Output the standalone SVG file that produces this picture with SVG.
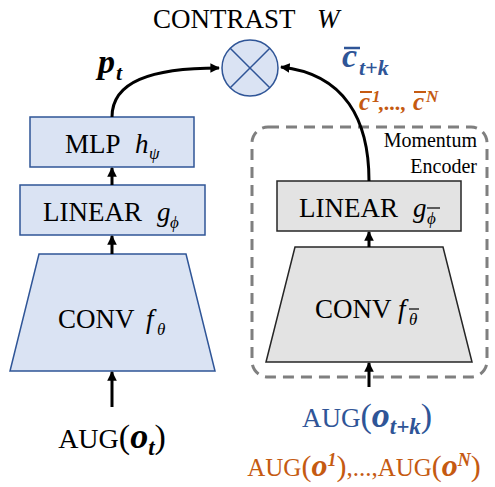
<svg xmlns="http://www.w3.org/2000/svg" width="495" height="487" viewBox="0 0 495 487">
<defs>
<style>
.t{font-family:"Liberation Serif","Times New Roman",serif;font-size:27px;fill:#000}
.i{font-style:italic}
.bi{font-style:italic;font-weight:bold}
.blue{fill:#dae3f3;stroke:#2f5597;stroke-width:1.5}
.gray{fill:#e3e3e3;stroke:#262626;stroke-width:1.5}
.conn{fill:none;stroke:#000;stroke-width:3}
</style>
<marker id="ah" viewBox="0 0 10 10" refX="9" refY="5" markerWidth="3.2" markerHeight="3.2" orient="auto-start-reverse" markerUnits="strokeWidth">
<path d="M0,0 L10,5 L0,10 z" fill="#000"/>
</marker>
</defs>
<rect width="495" height="487" fill="#fff"/>

<g id="momentum-box">
<rect x="252" y="127" width="235" height="250" rx="16" ry="16" fill="none" stroke="#7f7f7f" stroke-width="3" stroke-dasharray="11,7"/>
<text class="t" x="477" y="147" text-anchor="end" style="font-size:20px">Momentum</text>
<text class="t" x="477" y="173" text-anchor="end" style="font-size:20px">Encoder</text>
</g>

<g id="contrast">
<circle cx="250" cy="68" r="28" class="blue"/>
<line x1="230.2" y1="48.2" x2="269.8" y2="87.8" stroke="#2f5597" stroke-width="1.5"/>
<line x1="269.8" y1="48.2" x2="230.2" y2="87.8" stroke="#2f5597" stroke-width="1.5"/>
<text class="t" x="153" y="28">CONTRAST</text>
<text class="t i" x="317" y="28">W</text>
</g>

<g id="mlp">
<rect x="30" y="117" width="164" height="50" class="blue"/>
<text class="t" x="65" y="153">MLP</text>
<text class="t i" x="135" y="153">h</text>
<text class="t i" x="149" y="159" style="font-size:17px">ψ</text>
</g>

<g id="linear-left">
<rect x="20" y="185" width="185" height="50" class="blue"/>
<text class="t" x="43" y="221">LINEAR</text>
<text class="t i" x="157" y="221">g</text>
<text class="t i" x="170" y="228" style="font-size:17px">ϕ</text>
</g>

<g id="conv-left">
<polygon points="39,254 186,254 215,371 10,371" class="blue"/>
<text class="t" x="58" y="328">CONV</text>
<text class="t i" x="146" y="328">f</text>
<text class="t i" x="157" y="335" style="font-size:17px">θ</text>
</g>

<g id="linear-right">
<rect x="277" y="181" width="184" height="50" class="gray"/>
<text class="t" x="299" y="217">LINEAR</text>
<text class="t i" x="413" y="217">g</text>
<text class="t i" x="427" y="224" style="font-size:17px">ϕ</text>
<line x1="427" y1="208" x2="440" y2="208" stroke="#000" stroke-width="1.2"/>
</g>

<g id="conv-right">
<polygon points="295,247 443,247 472,362 266,362" class="gray"/>
<text class="t" x="315" y="318">CONV</text>
<text class="t i" x="398" y="318">f</text>
<text class="t i" x="409" y="325" style="font-size:17px">θ</text>
<line x1="409" y1="309" x2="419" y2="309" stroke="#000" stroke-width="1.2"/>
</g>

<g id="labels">
<text class="t bi" x="98" y="73" style="font-size:34px">p</text>
<text class="t bi" x="116" y="80" style="font-size:22px">t</text>

<text class="t bi" x="342" y="67" style="font-size:34px;fill:#2f5597">c</text>
<line x1="344" y1="48" x2="360" y2="48" stroke="#2f5597" stroke-width="2.5"/>
<text class="t bi" x="359" y="75" style="font-size:22px;fill:#2f5597">t+k</text>

<text class="t bi" x="359" y="110" style="font-size:25px;fill:#c55a11">c</text>
<line x1="360" y1="92" x2="372" y2="92" stroke="#c55a11" stroke-width="2"/>
<text class="t bi" x="372" y="102" style="font-size:17px;fill:#c55a11">1</text>
<text class="t bi" x="379" y="110" style="font-size:22px;fill:#c55a11">,...,</text>
<text class="t bi" x="413" y="110" style="font-size:25px;fill:#c55a11">c</text>
<line x1="414" y1="92" x2="426" y2="92" stroke="#c55a11" stroke-width="2"/>
<text class="t bi" x="426" y="102" style="font-size:17px;fill:#c55a11">N</text>

<text class="t" x="112" y="448" text-anchor="middle" style="font-size:28px">AUG<tspan style="font-size:34px">(</tspan><tspan class="bi" style="font-size:36px">o</tspan><tspan class="bi" style="font-size:23px" dy="7">t</tspan><tspan dy="-7" style="font-size:34px">)</tspan></text>

<text class="t" x="367" y="427" text-anchor="middle" style="font-size:27px;fill:#2f5597">AUG<tspan style="font-size:34px">(</tspan><tspan class="bi" style="font-size:36px">o</tspan><tspan class="bi" style="font-size:23px" dy="7">t+k</tspan><tspan dy="-7" style="font-size:34px">)</tspan></text>

<text class="t" x="364" y="476" text-anchor="middle" style="font-size:25px;fill:#c55a11">AUG<tspan style="font-size:30px">(</tspan><tspan class="bi" style="font-size:32px">o</tspan><tspan class="bi" style="font-size:18px" dy="-10">1</tspan><tspan dy="10" style="font-size:30px">)</tspan>,...,AUG<tspan style="font-size:30px">(</tspan><tspan class="bi" style="font-size:32px">o</tspan><tspan class="bi" style="font-size:18px" dy="-10">N</tspan><tspan dy="10" style="font-size:30px">)</tspan></text>
</g>

<g id="connectors">
<path class="conn" d="M112,117 C112,82 150,68 219,68" marker-end="url(#ah)"/>
<path class="conn" d="M369,181 C369,120 345,74 281,67" marker-end="url(#ah)"/>
<line class="conn" x1="112" y1="185" x2="112" y2="168" marker-end="url(#ah)"/>
<line class="conn" x1="112" y1="254" x2="112" y2="236" marker-end="url(#ah)"/>
<line class="conn" x1="112" y1="407" x2="112" y2="372" marker-end="url(#ah)"/>
<line class="conn" x1="369" y1="247" x2="369" y2="232" marker-end="url(#ah)"/>
<line class="conn" x1="369" y1="387" x2="369" y2="363" marker-end="url(#ah)"/>
</g>
</svg>
